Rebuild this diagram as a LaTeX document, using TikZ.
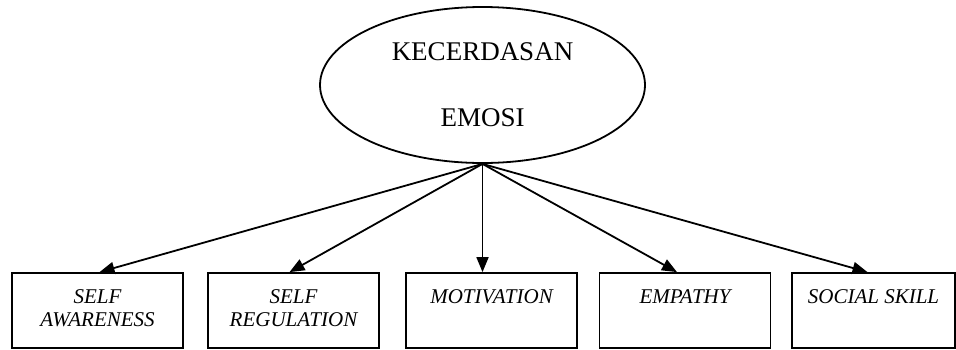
\documentclass[tikz,border=0pt]{standalone}
\usepackage{fontspec}
\setmainfont{Liberation Serif}
\usetikzlibrary{shapes.geometric,arrows.meta,positioning}
\tikzset{
  factor/.style={ellipse, draw, line width=0.9pt, minimum width=162.5pt, minimum height=78pt,
    inner sep=0pt, align=center, font=\fontsize{13.5}{33}\selectfont},
  indicator/.style={draw, line width=0.9pt, minimum width=85.5pt, minimum height=37.5pt, inner sep=0pt},
  indtext/.style={anchor=north, align=center, inner sep=0pt, font=\fontsize{10.5}{11.5}\selectfont\itshape},
  link/.style={-{Triangle[length=7.5pt,width=6pt]}, line width=0.9pt}
}
\begin{document}
\begin{tikzpicture}[x=0.5pt,y=-0.5pt]
        \useasboundingbox (0,0) rectangle (956,349);
        % latent variable
        \node[factor] (ke) at (482.5,85) {KECERDASAN\\EMOSI};
        % indicators
        \node[indicator] (sa) at (97.5,310.5) {};
        \node[indicator] (sr) at (293.5,310.5) {};
        \node[indicator] (mo) at (491.5,310.5) {};
        \node[indicator] (em) at (685,310.5) {};
        \node[indicator, minimum width=81.5pt] (ss) at (873.5,310.5) {};
        \node[indtext, below=8.5pt of sa.north] (satext) {SELF\\AWARENESS};
        \node[indtext, below=8.5pt of sr.north] (srtext) {SELF\\REGULATION};
        \node[indtext, below=8.5pt of mo.north] (motext) {MOTIVATION};
        \node[indtext, below=8.5pt of em.north] (emtext) {EMPATHY};
        \node[indtext, below=8.5pt of ss.north] (sstext) {SOCIAL SKILL};
        % arrows
        \draw[link] (ke.south) -- ([xshift=1pt]sa.north);
        \draw[link] (ke.south) -- ([xshift=-2pt]sr.north);
        \draw[link] (ke.south) -- (mo.north -| ke.south);
        \draw[link] (ke.south) -- ([xshift=-4pt]em.north);
        \draw[link] (ke.south) -- ([xshift=-3pt]ss.north);
    \end{tikzpicture}
\end{document}
